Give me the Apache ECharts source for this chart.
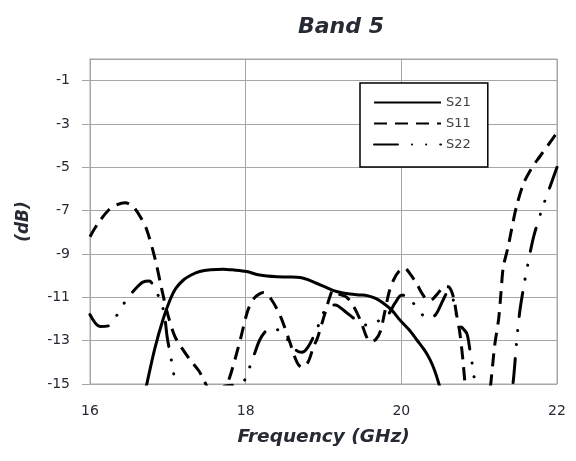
<!DOCTYPE html>
<html>
<head>
<meta charset="utf-8">
<script src="https://cdn.jsdelivr.net/npm/echarts@6/dist/echarts.min.js"></script>
<style>
  html, body { margin: 0; padding: 0; background: #ffffff; }
  #chart { width: 576px; height: 461px; }
</style>
</head>
<body>
<div id="chart"></div>
<script>
// Band 5 S-parameters, frequency in GHz, magnitude in dB
const xTicks = [16, 18, 20, 22];
const yTicks = [-15, -13, -11, -9, -7, -5, -3, -1];

const s21Freq = [16.65, 16.73, 16.83, 16.94, 17.03, 17.1, 17.2, 17.3, 17.41, 17.55, 17.71, 17.85, 18.01, 18.18, 18.4, 18.55, 18.7, 18.8, 18.91, 19.02, 19.13, 19.25, 19.34, 19.47, 19.56, 19.67, 19.77, 19.88, 19.98, 20.1, 20.2, 20.3, 20.37, 20.43, 20.48, 20.55];
const s21Db = [-16.3, -15.0, -13.4, -12.0, -11.1, -10.6, -10.2, -9.97, -9.81, -9.73, -9.7, -9.74, -9.81, -9.97, -10.05, -10.06, -10.08, -10.18, -10.35, -10.52, -10.69, -10.8, -10.85, -10.89, -10.92, -11.05, -11.27, -11.6, -12.04, -12.5, -12.97, -13.45, -13.89, -14.4, -14.96, -15.8];

const s11Freq = [16.0, 16.1, 16.24, 16.35, 16.45, 16.55, 16.65, 16.73, 16.84, 16.92, 17.0, 17.09, 17.2, 17.29, 17.4, 17.46, 17.55, 17.65, 17.75, 17.82, 17.93, 18.03, 18.12, 18.23, 18.33, 18.45, 18.57, 18.66, 18.72, 18.8, 18.87, 18.92, 18.98, 19.03, 19.08, 19.12, 19.2, 19.3, 19.4, 19.49, 19.55, 19.6, 19.67, 19.73, 19.78, 19.84, 19.9, 19.97, 20.04, 20.12, 20.2, 20.3, 20.37, 20.45, 20.56, 20.62, 20.67, 20.71, 20.75, 20.79, 20.82, 20.9, 21.0, 21.1, 21.16, 21.2, 21.25, 21.28, 21.31, 21.37, 21.42, 21.48, 21.57, 21.68, 21.78, 21.9, 22.0];
const s11Db = [-8.2, -7.6, -6.97, -6.72, -6.63, -6.8, -7.3, -7.89, -9.28, -10.6, -11.8, -12.8, -13.45, -13.9, -14.4, -14.8, -15.4, -15.6, -15.1, -14.4, -12.97, -11.58, -11.0, -10.78, -11.1, -11.9, -13.1, -14.0, -14.23, -14.0, -13.3, -12.9, -12.2, -11.6, -11.0, -10.7, -10.85, -11.0, -11.5, -12.2, -12.8, -13.04, -12.95, -12.58, -11.8, -10.8, -10.2, -9.8, -9.65, -9.95, -10.4, -11.0, -11.15, -10.9, -10.5, -10.55, -11.0, -11.8, -12.6, -13.85, -15.0, -17.0, -18.0, -16.5, -14.6, -13.2, -12.0, -10.8, -9.6, -8.7, -7.8, -6.8, -5.75, -5.0, -4.5, -3.9, -3.4];

const s22Freq = [16.0, 16.13, 16.25, 16.35, 16.47, 16.6, 16.68, 16.76, 16.86, 16.92, 16.96, 16.99, 17.03, 17.07, 17.1, 17.2, 17.4, 17.6, 17.73, 17.85, 17.97, 18.03, 18.1, 18.18, 18.26, 18.34, 18.46, 18.57, 18.65, 18.72, 18.8, 18.9, 18.98, 19.05, 19.15, 19.29, 19.45, 19.58, 19.7, 19.81, 19.92, 20.0, 20.07, 20.18, 20.3, 20.38, 20.45, 20.54, 20.6, 20.65, 20.7, 20.76, 20.84, 20.88, 20.92, 20.95, 21.0, 21.2, 21.35, 21.43, 21.48, 21.52, 21.58, 21.62, 21.7, 21.81, 21.88, 22.0];
const s22Db = [-11.8, -12.35, -12.3, -11.8, -11.1, -10.55, -10.3, -10.25, -10.8, -11.3, -11.9, -12.8, -13.6, -14.4, -15.2, -16.3, -16.5, -15.6, -15.1, -15.05, -14.9, -14.43, -13.74, -12.97, -12.55, -12.43, -12.6, -13.1, -13.45, -13.54, -13.3, -12.6, -11.9, -11.4, -11.35, -11.69, -12.12, -12.3, -12.1, -11.9, -11.26, -10.9, -10.9, -11.4, -11.9, -11.95, -11.75, -11.1, -10.75, -10.9, -11.7, -12.3, -12.66, -13.4, -14.3, -15.1, -16.5, -18.0, -16.5, -15.1, -13.1, -11.7, -10.35, -9.58, -8.2, -6.9, -6.2, -5.0];

const pairs = (xs, ys) => xs.map((x, i) => [x, ys[i]]);

const FONT = 'DejaVu Sans';
const TEXT = '#262a33';
const GRID = '#a6a6a6';

const chart = echarts.init(document.getElementById('chart'), null, { renderer: 'canvas' });

const lineSeries = (name, xs, ys, dash, cap) => ({
  name: name,
  type: 'line',
  data: pairs(xs, ys),
  smooth: 0.3,
  symbol: 'none',
  clip: true,
  itemStyle: { color: '#000000' },
  lineStyle: { color: '#000000', width: 3, type: dash, cap: cap }
});

chart.setOption({
  animation: false,
  backgroundColor: '#ffffff',
  title: {
    text: 'Band 5',
    left: 336,
    top: 11,
    textAlign: 'center',
    textStyle: { fontFamily: FONT, fontSize: 22, fontWeight: 'bold', fontStyle: 'italic', color: TEXT }
  },
  grid: {
    left: 90, right: 19, top: 59, bottom: 77,
    show: true, borderColor: GRID, borderWidth: 1, backgroundColor: 'transparent'
  },
  legend: {
    orient: 'vertical',
    left: 360, top: 83,
    padding: [13, 17, 16, 13],
    itemWidth: 67, itemHeight: 14, itemGap: 8,
    borderColor: '#000000', borderWidth: 1.5,
    backgroundColor: '#ffffff',
    itemStyle: { opacity: 0 },
    textStyle: { fontFamily: FONT, fontSize: 13, color: '#404040' },
    data: ['S21', 'S11', 'S22']
  },
  xAxis: {
    type: 'value',
    min: xTicks[0], max: xTicks[xTicks.length - 1], interval: 2,
    name: 'Frequency (GHz)',
    nameLocation: 'middle', nameGap: 44,
    nameTextStyle: { fontFamily: FONT, fontSize: 18.5, fontWeight: 'bold', fontStyle: 'italic', color: TEXT },
    axisLine: { show: true, lineStyle: { color: GRID, width: 1 } },
    axisTick: { show: false },
    axisLabel: { margin: 20, fontFamily: FONT, fontSize: 14, color: TEXT },
    splitLine: { show: true, lineStyle: { color: GRID, width: 1 } }
  },
  yAxis: {
    type: 'value',
    min: -15, max: 0,
    name: '(dB)',
    nameLocation: 'middle', nameGap: 58,
    nameTextStyle: { fontFamily: FONT, fontSize: 17, fontWeight: 'bold', fontStyle: 'italic', color: TEXT },
    axisLine: { show: true, lineStyle: { color: GRID, width: 1 } },
    axisTick: { show: true, inside: false, length: 8, customValues: yTicks, lineStyle: { color: GRID } },
    axisLabel: { margin: 20, customValues: yTicks, fontFamily: FONT, fontSize: 14, color: TEXT },
    splitLine: { show: true, lineStyle: { color: GRID, width: 1 } }
  },
  series: [
    lineSeries('S21', s21Freq, s21Db, 'solid', 'butt'),
    lineSeries('S11', s11Freq, s11Db, [13, 8], 'butt'),
    lineSeries('S22', s22Freq, s22Db, [24, 14, 0.1, 14, 0.1, 14], 'round')
  ]
});
</script>
</body>
</html>
